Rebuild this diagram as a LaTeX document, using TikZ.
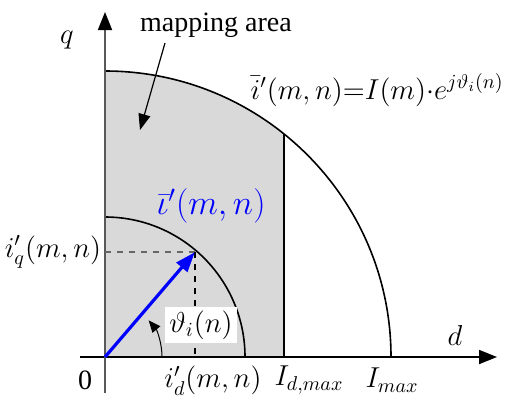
\documentclass[tikz,border=0pt]{standalone}
\usepackage{amsmath}
\usepackage{fontspec}
\setmainfont{Liberation Serif}
\usetikzlibrary{arrows.meta}

\begin{document}
\begin{tikzpicture}[x=0.5pt, y=0.5pt, font=\fontsize{14}{16}\selectfont,
    axis/.style={line width=0.9pt, -{Triangle[length=9pt, width=7pt, color=black]}},
    curve/.style={line width=0.8pt}]
  \useasboundingbox (-105,-46) rectangle (402,357);
  % Abbildungsbereich
  \fill[gray!30] (0,0) -- (0,286) arc[start angle=90, end angle=51.25, radius=286] -- (179,0) -- cycle;
  \draw[curve] (286,0) arc[start angle=0, end angle=90, radius=286];
  \draw[curve] (140,0) arc[start angle=0, end angle=90, radius=140];
  \draw[curve] (179,0) -- (179,223);
  % Achsen
  \coordinate (O) at (0,0);
  \coordinate (dstart) at (-25,0);
  \coordinate (dend) at (392,0);
  \coordinate (qstart) at (0,-36);
  \coordinate (qend) at (0,345);
  \draw[axis] (dstart) -- (dend);
  \draw[axis, black!65] (qstart) -- (qend);
  % Stromzeiger
  \coordinate (P) at (49.4:138);
  \draw[dashed, black!60, line width=0.8pt] (P) -- (P -| O);
  \draw[dashed, line width=0.8pt] (P) -- (P |- O);
  \draw[blue, line width=1.6pt, -{Triangle[length=10pt, width=7pt]}] (O) -- (P);
  \draw[line width=0.5pt, -{Triangle[length=6pt, width=5pt]}] (57,0) arc[start angle=0, end angle=40, radius=57];
  \node[fill=white, inner sep=2pt] (ang) at (96,32) {$\vartheta_i(n)$};
  % Beschriftung
  \node (qlab) at (-38,317) {$q$};
  \node (dlab) at (350,22) {$d$};
  \node (zero) at (-20,-23) {0};
  \node (idlab) at (108,-24) {$i'_d(m,n)$};
  \node (Idmax) at (204,-23) {$I_{d,max}$};
  \node (Imax) at (287,-23) {$I_{max}$};
  \node (iqlab) at (-52,105) {$i'_q(m,n)$};
  \node[blue, font=\fontsize{17}{19}\selectfont] (veclab) at (106,151) {$\bar{\iota}'(m,n)$};
  \node[anchor=east, inner sep=1pt] (eq) at (401,267) {$\bar{i}'(m,n){=}I(m){\cdot}e^{j\vartheta_i(n)}$};
  \node (area) at (111,332) {mapping area};
  \coordinate (areafrom) at (60,314);
  \coordinate (areato) at (35,227);
  \draw[line width=0.6pt, -{Triangle[length=8pt, width=6pt]}] (areafrom) -- (areato);
\end{tikzpicture}
\end{document}
